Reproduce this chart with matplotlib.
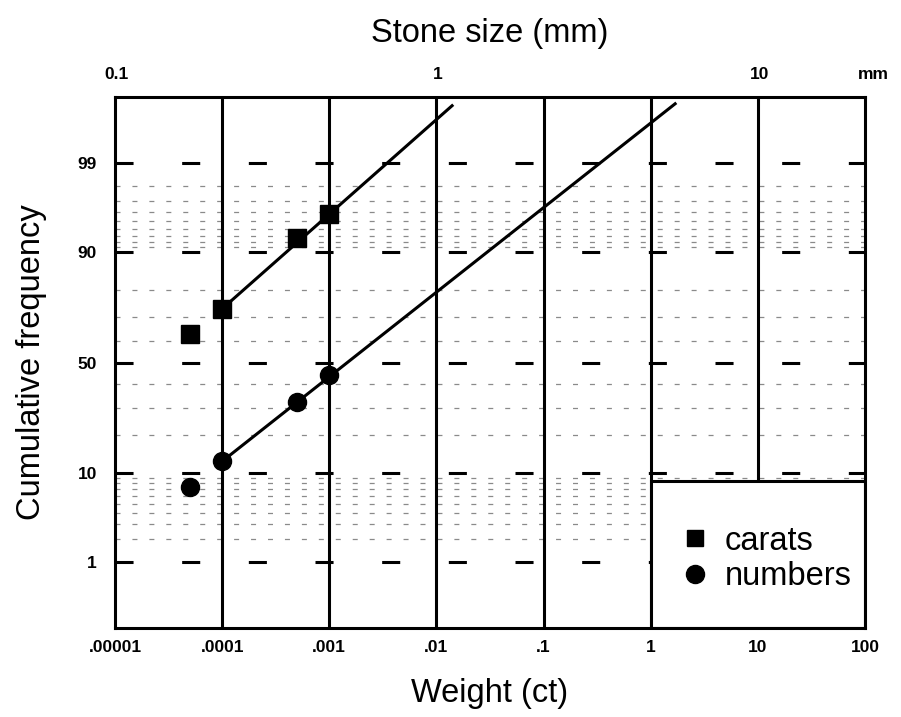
import math
import numpy as np
import matplotlib
matplotlib.use("Agg")
import matplotlib.pyplot as plt
from matplotlib.lines import Line2D
from matplotlib.patches import Rectangle

# ---------------- data ----------------
weight_ticks = [1e-5, 1e-4, 1e-3, 1e-2, 1e-1, 1, 10, 100]
weight_labels = [".00001", ".0001", ".001", ".01", ".1", "1", "10", "100"]
pct_ticks = [1, 10, 50, 90, 99]
pct_labels = ["1", "10", "50", "90", "99"]
pct_minor = [2, 3, 4, 5, 6, 7, 8, 9, 20, 30, 40, 60, 70, 80,
             91, 92, 93, 94, 95, 96, 97, 98]
size_ticks = [0.1, 1, 10]
size_labels = ["0.1", "1", "10"]

carats_wt = [5e-5, 1e-4, 5e-4, 1e-3]
carats_pct = [63.0, 73.4, 92.6, 95.8]
numbers_wt = [5e-5, 1e-4, 5e-4, 1e-3]
numbers_pct = [7.4, 12.5, 32.2, 44.4]

carats_fit_wt = [1e-4, 0.014]
carats_fit_pct = [73.4, 99.86]
numbers_fit_wt = [1e-4, 1.69]
numbers_fit_pct = [12.5, 99.87]

vlines_wt = [1e-4, 1e-3, 1e-2, 1e-1, 1, 10]
box_wt = (1, 100)
box_pct = (0.1, 8.4)

# ---------------- probability scale ----------------
_a = [-3.969683028665376e+01, 2.209460984245205e+02, -2.759285104469687e+02,
      1.383577518672690e+02, -3.066479806614716e+01, 2.506628277459239e+00]
_b = [-5.447609879822406e+01, 1.615858368580409e+02, -1.556989798598866e+02,
      6.680131188771972e+01, -1.328068155288572e+01]
_c = [-7.784894002430293e-03, -3.223964580411365e-01, -2.400758277161838e+00,
      -2.549732539343734e+00, 4.374664141464968e+00, 2.938163982698783e+00]
_d = [7.784695709041462e-03, 3.224671290700398e-01, 2.445134137142996e+00,
      3.754408661907416e+00]


def _ppf(p):
    p = np.clip(np.asarray(p, dtype=float), 1e-12, 1 - 1e-12)
    out = np.empty_like(p)
    plow = 0.02425
    lo = p < plow
    hi = p > 1 - plow
    mid = ~(lo | hi)
    q = np.sqrt(-2 * np.log(p[lo]))
    out[lo] = (((((_c[0]*q+_c[1])*q+_c[2])*q+_c[3])*q+_c[4])*q+_c[5]) / \
        ((((_d[0]*q+_d[1])*q+_d[2])*q+_d[3])*q+1)
    q = np.sqrt(-2 * np.log(1 - p[hi]))
    out[hi] = -(((((_c[0]*q+_c[1])*q+_c[2])*q+_c[3])*q+_c[4])*q+_c[5]) / \
        ((((_d[0]*q+_d[1])*q+_d[2])*q+_d[3])*q+1)
    q = p[mid] - 0.5
    r = q * q
    out[mid] = (((((_a[0]*r+_a[1])*r+_a[2])*r+_a[3])*r+_a[4])*r+_a[5])*q / \
        (((((_b[0]*r+_b[1])*r+_b[2])*r+_b[3])*r+_b[4])*r+1)
    return out


_erf = np.vectorize(math.erf)


def pct_to_z(pct):
    pct = np.asarray(pct, dtype=float)
    return _ppf(pct / 100.0)


def z_to_pct(z):
    z = np.asarray(z, dtype=float)
    return 100.0 * 0.5 * (1 + _erf(z / math.sqrt(2)))


def wt_to_mm(w):
    w = np.asarray(w, dtype=float)
    return np.cbrt(np.clip(w, 1e-30, None) / 0.0103)


def mm_to_wt(s):
    s = np.asarray(s, dtype=float)
    return 0.0103 * s ** 3


# ---------------- figure ----------------
plt.rcParams['lines.scale_dashes'] = False
plt.rcParams['font.family'] = ['Liberation Sans', 'DejaVu Sans']

fig = plt.figure(figsize=(9.01, 7.17), dpi=100)
ax = fig.add_axes([115/901, 1 - 628/717, 750/901, 531/717])
ax.set_xscale('log')
ax.set_yscale('function', functions=(pct_to_z, z_to_pct))
ax.set_xlim(1e-5, 100)
ax.set_ylim(0.1, 99.9)

LW = 2.2
# minor dotted grid
for p in pct_minor:
    ax.axhline(p, color='#8a8a8a', lw=0.9, linestyle=(0, (3.6, 8.6)), zorder=1)
# major dashed lines
for p in pct_ticks:
    ax.axhline(p, color='black', lw=LW, linestyle=(0, (13, 35)), zorder=2)
# vertical decade lines
for w in vlines_wt:
    ax.axvline(w, color='black', lw=LW, zorder=2)

# legend box
ax.add_patch(Rectangle((box_wt[0], box_pct[0]), box_wt[1] - box_wt[0],
                       box_pct[1] - box_pct[0], facecolor='white',
                       edgecolor='black', lw=LW, zorder=3))

# fits
ax.plot(carats_fit_wt, carats_fit_pct, color='black', lw=LW, zorder=4)
ax.plot(numbers_fit_wt, numbers_fit_pct, color='black', lw=LW, zorder=4)
# points
ax.plot(carats_wt, carats_pct, linestyle='none', marker='s', ms=12.5,
        color='black', zorder=5)
ax.plot(numbers_wt, numbers_pct, linestyle='none', marker='o', ms=13,
        color='black', zorder=5)

for s in ax.spines.values():
    s.set_linewidth(LW)
    s.set_zorder(6)

ax.set_xticks(weight_ticks)
ax.set_xticklabels(weight_labels)
ax.xaxis.set_minor_locator(matplotlib.ticker.NullLocator())
ax.set_yticks(pct_ticks)
ax.set_yticklabels(pct_labels)
ax.yaxis.set_minor_locator(matplotlib.ticker.NullLocator())
ax.tick_params(axis='x', length=0, pad=9, labelsize=12.5)
ax.tick_params(axis='y', length=0, pad=13, labelsize=12.5)
for t in ax.get_xticklabels() + ax.get_yticklabels():
    t.set_fontweight('bold')

ax.set_xlabel('Weight (ct)', fontsize=23.5, labelpad=16)
ax.set_ylabel('Cumulative frequency', fontsize=23.5, labelpad=22)

sec = ax.secondary_xaxis('top', functions=(wt_to_mm, mm_to_wt))
sec.set_xticks(size_ticks)
sec.set_xticklabels(size_labels)
sec.xaxis.set_minor_locator(matplotlib.ticker.NullLocator())
sec.tick_params(axis='x', length=0, pad=11, labelsize=12.5)
for t in sec.get_xticklabels():
    t.set_fontweight('bold')
sec.spines['top'].set_visible(False)
sec.set_xlabel('Stone size (mm)', fontsize=23.5, labelpad=18)
ax.annotate('mm', xy=(1.0, 1.0), xycoords='axes fraction',
            xytext=(6, 11), textcoords='offset points', ha='center',
            va='bottom', fontsize=12.5, fontweight='bold')

handles = [Line2D([], [], linestyle='none', marker='s', ms=12, color='black'),
           Line2D([], [], linestyle='none', marker='o', ms=13, color='black')]
ax.legend(handles, ['carats', 'numbers'], loc='upper left',
          bbox_to_anchor=(0.752, 0.193), frameon=False, fontsize=23.5,
          handlelength=1.0, handletextpad=0.4, labelspacing=0.15,
          borderpad=0, borderaxespad=0)

fig.savefig('out.png', dpi=100)
